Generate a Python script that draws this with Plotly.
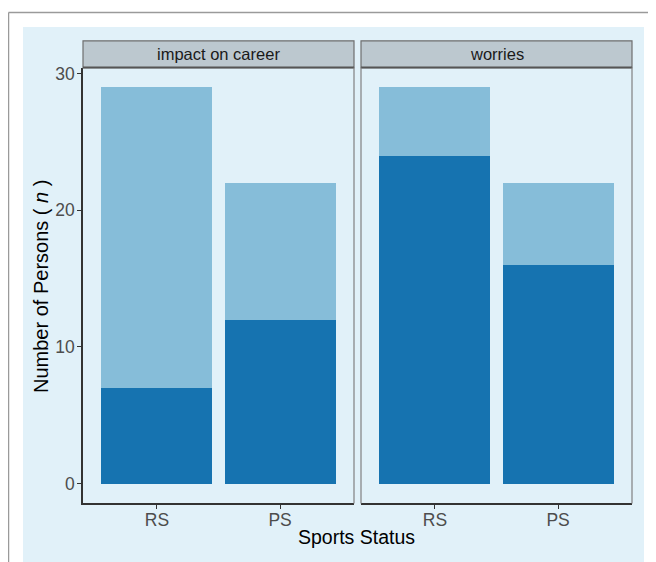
import plotly.graph_objects as go

# page has an 8px body margin; build the figure in reference-pixel coordinates shifted by it
OFF = 8
W, H = 656 - OFF, 562 - OFF
categories = ["RS", "PS"]
panels = ["impact on career", "worries"]
totals = {"impact on career": [29, 22], "worries": [29, 22]}
dark_vals = {"impact on career": [7, 12], "worries": [24, 16]}
yticks = [0, 10, 20, 30]

DARK = "#1673b0"
LIGHT = "#86bdd9"
BG = "#e1f1f9"
STRIP = "#bcc8cf"
FONT = "Liberation Sans, Arial"


def px(x):
    return (x - OFF) / W


def py(y):
    return 1 - (y - OFF) / H


fig = go.Figure()
axes = [("x", "y"), ("x2", "y2")]
for p, (xa, ya) in zip(panels, axes):
    light_vals = [t - d for t, d in zip(totals[p], dark_vals[p])]
    fig.add_trace(go.Bar(x=categories, y=dark_vals[p], marker_color=DARK, marker_line_width=0,
                         width=0.9, xaxis=xa, yaxis=ya, showlegend=False))
    fig.add_trace(go.Bar(x=categories, y=light_vals, marker_color=LIGHT, marker_line_width=0,
                         width=0.9, xaxis=xa, yaxis=ya, showlegend=False))

panel_x = [(83, 354), (361, 632)]
top, bottom = 64, 503
yr = [-1.45, 30.45]
tickfont = dict(family=FONT, size=17.5, color="#4d4d4d")

common_x = dict(type="category", categoryorder="array", categoryarray=categories,
                range=[-0.6, 1.6], showline=True, linecolor="#333333", linewidth=1.5,
                ticks="outside", ticklen=4, tickcolor="#333333", tickfont=tickfont,
                ticklabelstandoff=-4,
                showgrid=False, zeroline=False, fixedrange=True)
fig.update_layout(
    width=W, height=H, margin=dict(l=0, r=0, t=0, b=0),
    paper_bgcolor="white", plot_bgcolor="rgba(0,0,0,0)",
    barmode="stack", bargap=0.1,
    xaxis=dict(common_x, domain=[px(panel_x[0][0]), px(panel_x[0][1])], anchor="y"),
    xaxis2=dict(common_x, domain=[px(panel_x[1][0]), px(panel_x[1][1])], anchor="y2"),
    yaxis=dict(domain=[py(bottom), py(top)], range=yr, tickvals=yticks, showline=True,
               linecolor="#333333", linewidth=1.5, ticks="outside", ticklen=4, tickcolor="#333333",
               tickfont=tickfont, ticklabelstandoff=-1,
               showgrid=False, zeroline=False, fixedrange=True, anchor="x"),
    yaxis2=dict(domain=[py(bottom), py(top)], range=yr, tickvals=yticks, showticklabels=False,
                showline=False, ticks="", showgrid=False, zeroline=False, fixedrange=True, anchor="x2"),
)

shapes = []
# outer frame lines
shapes.append(dict(type="line", xref="paper", yref="paper", x0=px(8.5), x1=px(8.5), y0=py(8.5), y1=0,
                   line=dict(color="#9a9a9a", width=1.5), layer="below"))
shapes.append(dict(type="line", xref="paper", yref="paper", x0=px(8.5), x1=1, y0=py(8.5), y1=py(8.5),
                   line=dict(color="#9a9a9a", width=1.5), layer="below"))
# light blue background
shapes.append(dict(type="rect", xref="paper", yref="paper", x0=px(23), x1=px(644), y0=0, y1=py(23),
                   fillcolor=BG, line_width=0, layer="below"))
for i, (x0, x1) in enumerate(panel_x):
    # strip
    shapes.append(dict(type="rect", xref="paper", yref="paper", x0=px(x0), x1=px(x1), y0=py(top), y1=py(37),
                       fillcolor=STRIP, line=dict(color="#6f6f6f", width=1.2), layer="above"))
    shapes.append(dict(type="line", xref="paper", yref="paper", x0=px(x0), x1=px(x1), y0=py(top), y1=py(top),
                       line=dict(color="#555555", width=2), layer="above"))
    # panel borders (gray)
    shapes.append(dict(type="line", xref="paper", yref="paper", x0=px(x1), x1=px(x1), y0=py(bottom), y1=py(top),
                       line=dict(color="#808080", width=1.2), layer="above"))
    if i == 1:
        shapes.append(dict(type="line", xref="paper", yref="paper", x0=px(x0), x1=px(x0), y0=py(bottom), y1=py(top),
                           line=dict(color="#808080", width=1.2), layer="above"))
fig.update_layout(shapes=shapes)

annotations = []
for p, (x0, x1) in zip(panels, panel_x):
    annotations.append(dict(text=p, xref="paper", yref="paper", x=px((x0 + x1) / 2), y=py(50.5),
                            showarrow=False, xanchor="center", yanchor="middle",
                            font=dict(family=FONT, size=16.5, color="#1a1a1a")))
annotations.append(dict(text="Sports Status", xref="paper", yref="paper", x=px(357), y=py(537),
                        showarrow=False, xanchor="center", yanchor="middle",
                        font=dict(family=FONT, size=19.5, color="black")))
annotations.append(dict(text="Number of Persons ( <i>n</i> )", xref="paper", yref="paper", x=px(41), y=py(285),
                        showarrow=False, xanchor="center", yanchor="middle", textangle=-90,
                        font=dict(family=FONT, size=20, color="black")))
fig.update_layout(annotations=annotations)

fig.write_html("out.html")
